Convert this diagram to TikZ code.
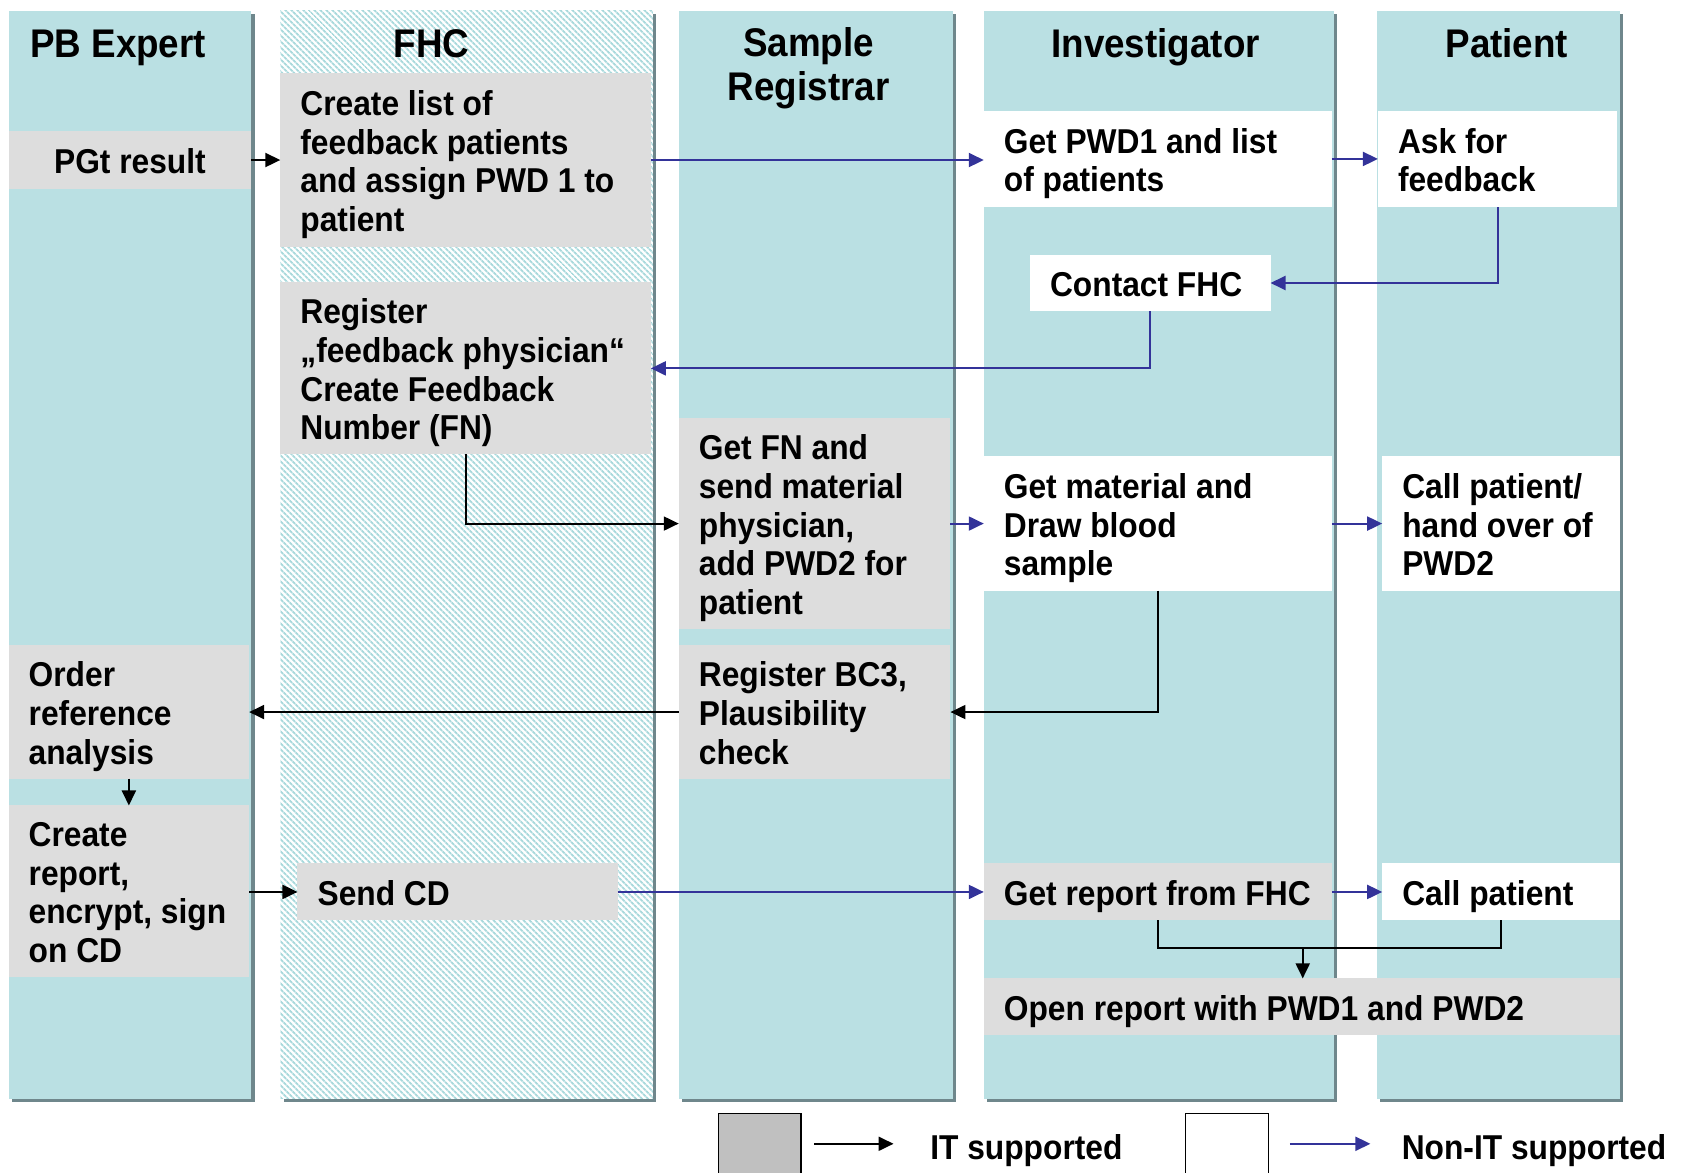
\documentclass[tikz,border=0pt]{standalone}
\usepackage{fontspec}
\newfontfamily\lf{Liberation Sans}[FakeStretch=0.92]
\usetikzlibrary{arrows.meta,patterns.meta}
\definecolor{colbg}{HTML}{BAE0E3}
\definecolor{hatch}{HTML}{A9D9DC}
\definecolor{graybox}{HTML}{DDDDDD}
\definecolor{shadowc}{HTML}{6F878C}
\definecolor{arrowblue}{HTML}{333399}
\definecolor{leggray}{HTML}{C0C0C0}
\tikzset{
  boxst/.style={draw=none, inner sep=0pt, outer sep=0pt},
  txt/.style={inner sep=0pt, align=left, text depth=7.5pt, yshift=-4.8pt, font=\lf\bfseries\fontsize{34.5}{38.7}\selectfont},
  hdr/.style={inner sep=0pt, align=center, font=\lf\bfseries\fontsize{40}{44}\selectfont},
  itarrow/.style={draw=black, line width=2pt, -{Triangle[length=15pt,width=14pt]}},
  nitarrow/.style={draw=arrowblue, line width=2pt, -{Triangle[length=15pt,width=14pt]}},
  itline/.style={draw=black, line width=2pt},
  legbox/.style={draw=black, line width=1.5pt, inner sep=0pt, outer sep=0pt},
}
\newcommand\bx[7]{%
  \pgfmathsetmacro\bw{(#4-#2)*1.074}%
  \pgfmathsetmacro\bh{(#5-#3)*1.074}%
  \node[boxst, fill=#6, minimum width=\bw pt, minimum height=\bh pt] (#1) at ({(#2+#4)/2},{-(#3+#5)/2}) {};%
  \node[txt, anchor=west] (#1t) at ([xshift=19.9pt]#1.west) {#7};}
\newcommand\lane[4]{%
  \fill[shadowc] (#1+3,-#3-3) rectangle (#2+3,-#4-3);%
  \fill[colbg] (#1,-#3) rectangle (#2,-#4);}
\begin{document}
\begin{tikzpicture}[x=1.074pt,y=1.074pt]
\useasboundingbox (0,0) rectangle (1568,-1092);
\fill[white] (0,0) rectangle (1568,-1092);
% swimlanes
\lane{8}{234}{10}{1023}
\fill[shadowc] (264,-13) rectangle (611,-1026);
\fill[white] (261,-10) rectangle (608,-1023);
\fill[pattern={Lines[angle=-45,distance=4pt,line width=2pt]}, pattern color=hatch] (261,-10) rectangle (608,-1023);
\lane{632}{887}{10}{1023}
\lane{916}{1242}{10}{1023}
\lane{1282}{1508}{10}{1023}
% headers
\node[hdr, anchor=base] (hpb) at (110,-53.3) {PB Expert};
\node[hdr, anchor=base] (hfhc) at (402,-53.3) {FHC};
\node[hdr] (hsr) at (753,-64) {Sample\\Registrar};
\node[hdr, anchor=base] (hinv) at (1076,-53.3) {Investigator};
\node[hdr, anchor=base] (hpat) at (1403,-53.3) {Patient};
% boxes
\node[boxst, fill=graybox, minimum width=242.7pt, minimum height=58pt] (pgt) at (121,-149) {};
\node[txt, align=center] (pgtt) at (121,-149) {PGt result};
\bx{crl}{261}{68}{606}{230}{graybox}{Create list of\\feedback patients\\and assign PWD 1 to\\patient}
\bx{reg}{261}{263}{606}{423}{graybox}{Register\\„feedback physician“\\Create Feedback\\Number (FN)}
\bx{gpw}{916}{103}{1240}{193}{white}{Get PWD1 and list\\of patients}
\bx{ask}{1283}{103}{1506}{193}{white}{Ask for\\feedback}
\bx{cfh}{959}{237}{1183}{290}{white}{Contact FHC}
\bx{gfn}{632}{389}{885}{586}{graybox}{Get FN and\\send material\\physician,\\add PWD2 for\\patient}
\bx{gmt}{916}{425}{1240}{550}{white}{Get material and\\Draw blood\\sample}
\bx{cph}{1287}{425}{1508}{550}{white}{Call patient/\\hand over of\\PWD2}
\bx{ord}{8}{601}{232}{725}{graybox}{Order\\reference\\analysis}
\bx{bc3}{632}{601}{885}{725}{graybox}{Register BC3,\\Plausibility\\check}
\bx{crp}{8}{750}{232}{910}{graybox}{Create\\report,\\encrypt, sign\\on CD}
\bx{scd}{277}{804}{575}{857}{graybox}{Send CD}
\bx{grp}{916}{804}{1240}{857}{graybox}{Get report from FHC}
\bx{cpt}{1287}{804}{1508}{857}{white}{Call patient}
\bx{opn}{916}{911}{1508}{964}{graybox}{Open report with PWD1 and PWD2}
% connectors
\draw[itarrow] (pgt.east) -- (pgt.east -| crl.west);
\draw[nitarrow] (crl.east) -- (crl.east -| gpw.west);
\draw[nitarrow] (gpw.east) -- (gpw.east -| ask.west);
\draw[nitarrow] (ask.south) |- (cfh.east);
\draw[nitarrow] (cfh.south) |- (reg.east);
\draw[itarrow] (reg.south) |- (gfn.west);
\draw[nitarrow] (gfn.east) -- (gfn.east -| gmt.west);
\draw[nitarrow] (gmt.east) -- (gmt.east -| cph.west);
\draw[itarrow] (gmt.south) |- (bc3.east);
\draw[itarrow] (bc3.west) -- (bc3.west -| ord.east);
\draw[itarrow] (ord.south) -- (ord.south |- crp.north);
\draw[itarrow] (crp.east |- scd.west) -- (scd.west);
\draw[nitarrow] (scd.east) -- (scd.east -| grp.west);
\draw[nitarrow] (grp.east) -- (grp.east -| cpt.west);
\coordinate (jn) at (1213,-883);
\draw[itline] (grp.south) |- (jn) -| (cpt.south);
\draw[itarrow] (jn) -- (jn |- opn.north);
% legend
\node[legbox, fill=leggray, minimum width=82.7pt, minimum height=64pt, anchor=north west] (lg1) at (669,-1037) {};
\coordinate (la1) at (758,-1065);
\coordinate (lb1) at (832,-1065);
\draw[itarrow] (la1) -- (lb1);
\node[txt, anchor=west] (lt1) at (866,-1067) {IT supported};
\node[legbox, fill=white, minimum width=82.7pt, minimum height=64pt, anchor=north west] (lg2) at (1104,-1037) {};
\coordinate (la2) at (1201,-1065);
\coordinate (lb2) at (1276,-1065);
\draw[nitarrow] (la2) -- (lb2);
\node[txt, anchor=west] (lt2) at (1305,-1067) {Non-IT supported};
\end{tikzpicture}
\end{document}
